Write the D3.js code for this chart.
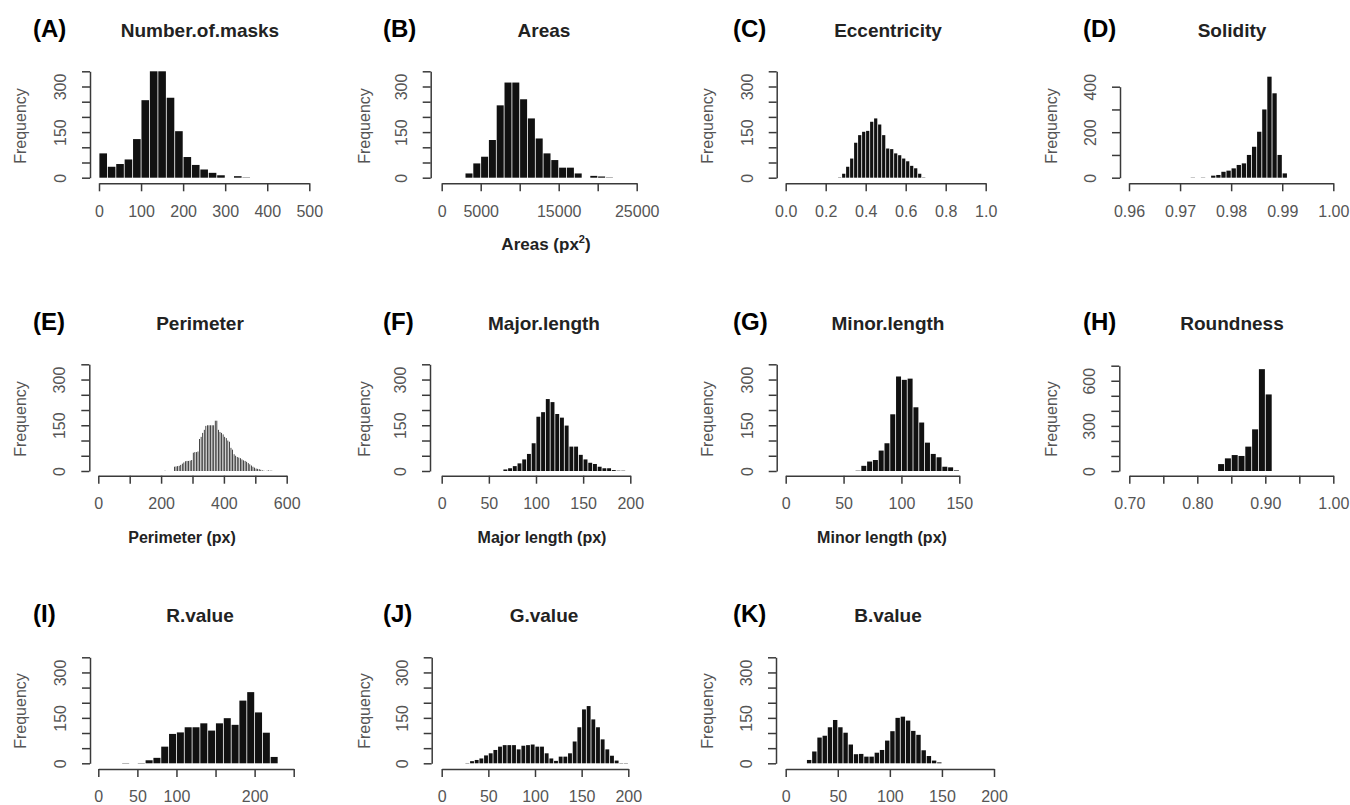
<!DOCTYPE html>
<html>
<head>
<meta charset="utf-8">
<script src="https://cdn.jsdelivr.net/npm/d3@7"></script>
<style>
  body { margin: 0; background: #fff; }
  svg { display: block; font-family: "Liberation Sans", Arial, Helvetica, sans-serif; }
</style>
</head>
<body>
<svg id="chart" width="1350" height="805"></svg>
<script>
// Histogram counts (one value per bin)
const masksCounts = [80, 36, 45, 60, 127, 255, 350, 350, 263, 153, 68, 42, 27, 16, 8, 0, 5, 1];          // bins of 20 from 0
const areasCounts = [14, 47, 69, 124, 238, 313, 313, 258, 195, 129, 80, 58, 33, 33, 14, 0, 6, 4, 1];      // bins of 1000 from 3000
const eccCounts = [1, 13, 36, 63, 115, 140, 151, 154, 184, 195, 175, 140, 96, 94, 80, 74, 63, 54, 39, 31, 13, 1]; // 0.02 from 0.26
const solidityCounts = [1, 0, 1, 0, 9, 12, 26, 31, 41, 56, 63, 100, 136, 202, 300, 444, 371, 100, 19]; // 0.001 from 0.972
const perimeterCounts = [1, 0, 0, 0, 0, 0, 14, 15, 16, 17, 20, 24, 28, 32, 33, 33, 34, 36,
  60, 62, 62, 64, 105, 112, 125, 135, 148, 150, 150, 150, 150, 150, 165, 165,
  135, 128, 125, 120, 112, 108, 100, 96, 76, 70, 55, 50, 46, 44, 42, 38, 35, 33, 30, 26,
  22, 18, 14, 11, 8, 7, 6, 4, 2, 1, 0, 1, 2, 1, 1];                                                      // bins of 5 from 210
const majorCounts = [5, 9, 16, 25, 38, 56, 91, 178, 193, 236, 226, 187, 175, 149, 80, 80, 53, 38, 27, 23, 14, 9, 9, 3, 1, 1]; // 5 from 65
const minorCounts = [1, 17, 31, 36, 67, 91, 186, 310, 299, 303, 209, 159, 93, 56, 45, 14, 12, 2];        // 5 from 60
const roundCounts = [46, 84, 106, 100, 162, 277, 677, 509];                                                // 0.01 from 0.83
const redCounts = [1, 0, 1, 10, 18, 55, 97, 102, 119, 119, 132, 108, 132, 149, 127, 207, 235, 168, 101, 21]; // 10 from 30
const greenCounts = [1, 7, 11, 16, 26, 33, 44, 55, 60, 60, 60, 46, 58, 60, 62, 55, 55, 33, 16, 8, 22, 22, 33,
  72, 119, 178, 189, 145, 119, 79, 46, 25, 9, 1, 1];                                                       // 5 from 25
const blueCounts = [11, 39, 85, 91, 119, 143, 119, 101, 62, 30, 31, 22, 22, 35, 44, 75, 106, 150, 154, 141,
  107, 94, 43, 24, 9, 3];                                                                                   // 5 from 20

// Axis ticks and which of them carry a label
const masksTicks = [0, 100, 200, 300, 400, 500];
const areasTicks = [0, 5000, 10000, 15000, 20000, 25000];
const areasLabels = [0, 5000, 15000, 25000];
const eccTicks = [0, 0.2, 0.4, 0.6, 0.8, 1.0];
const solidityTicks = [0.96, 0.97, 0.98, 0.99, 1.00];
const perimeterTicks = [0, 100, 200, 300, 400, 500, 600];
const perimeterLabels = [0, 200, 400, 600];
const majorTicks = [0, 50, 100, 150, 200];
const minorTicks = [0, 50, 100, 150];
const roundTicks = [0.70, 0.75, 0.80, 0.85, 0.90, 0.95, 1.00];
const roundLabels = [0.70, 0.80, 0.90, 1.00];
const redTicks = [0, 50, 100, 150, 200, 250];
const redLabels = [0, 50, 100, 200];
const colourTicks = [0, 50, 100, 150, 200];

const freqTicks = [0, 50, 100, 150, 200, 250, 300, 350];
const freqLabels = [0, 150, 300];
const solidityFreqTicks = [0, 100, 200, 300, 400];
const solidityFreqLabels = [0, 200, 400];
const roundFreqTicks = [0, 100, 200, 300, 400, 500, 600, 700];
const roundFreqLabels = [0, 300, 600];

const panels = [
  { tag: "(A)", title: "Number.of.masks", counts: masksCounts, start: 0, step: 20, xTicks: masksTicks, xLabels: masksTicks, fmt: d3.format("d"), yTicks: freqTicks, yLabels: freqLabels },
  { tag: "(B)", title: "Areas", counts: areasCounts, start: 3000, step: 1000, xTicks: areasTicks, xLabels: areasLabels, fmt: d3.format("d"), yTicks: freqTicks, yLabels: freqLabels, xTitle: ["Areas (px", "2", ")"] },
  { tag: "(C)", title: "Eccentricity", counts: eccCounts, start: 0.26, step: 0.02, xTicks: eccTicks, xLabels: eccTicks, fmt: d3.format(".1f"), yTicks: freqTicks, yLabels: freqLabels },
  { tag: "(D)", title: "Solidity", counts: solidityCounts, start: 0.972, step: 0.001, xTicks: solidityTicks, xLabels: solidityTicks, fmt: d3.format(".2f"), yTicks: solidityFreqTicks, yLabels: solidityFreqLabels },
  { tag: "(E)", title: "Perimeter", counts: perimeterCounts, start: 210, step: 5, xTicks: perimeterTicks, xLabels: perimeterLabels, fmt: d3.format("d"), yTicks: freqTicks, yLabels: freqLabels, xTitle: ["Perimeter (px)"] },
  { tag: "(F)", title: "Major.length", counts: majorCounts, start: 65, step: 5, xTicks: majorTicks, xLabels: majorTicks, fmt: d3.format("d"), yTicks: freqTicks, yLabels: freqLabels, xTitle: ["Major length (px)"] },
  { tag: "(G)", title: "Minor.length", counts: minorCounts, start: 60, step: 5, xTicks: minorTicks, xLabels: minorTicks, fmt: d3.format("d"), yTicks: freqTicks, yLabels: freqLabels, xTitle: ["Minor length (px)"] },
  { tag: "(H)", title: "Roundness", counts: roundCounts, start: 0.83, step: 0.01, xTicks: roundTicks, xLabels: roundLabels, fmt: d3.format(".2f"), yTicks: roundFreqTicks, yLabels: roundFreqLabels },
  { tag: "(I)", title: "R.value", counts: redCounts, start: 30, step: 10, xTicks: redTicks, xLabels: redLabels, fmt: d3.format("d"), yTicks: freqTicks, yLabels: freqLabels },
  { tag: "(J)", title: "G.value", counts: greenCounts, start: 25, step: 5, xTicks: colourTicks, xLabels: colourTicks, fmt: d3.format("d"), yTicks: freqTicks, yLabels: freqLabels },
  { tag: "(K)", title: "B.value", counts: blueCounts, start: 20, step: 5, xTicks: colourTicks, xLabels: colourTicks, fmt: d3.format("d"), yTicks: freqTicks, yLabels: freqLabels }
];

// layout (pixel positions of each panel)
const rows = [
  { base: 177.7, top: 71.3, axisY: 183.3, textY: 37, freqY: 126, titleY: 250, titleSize: 17 },
  { base: 471.0, top: 364.3, axisY: 475.7, textY: 330, freqY: 419, titleY: 543, titleSize: 16 },
  { base: 763.3, top: 657.3, axisY: 769.0, textY: 622, freqY: 711, titleY: 836, titleSize: 16 }
];
const cols = [
  { tagX: 33, titleX: 200, freqX: 21 },
  { tagX: 383, titleX: 544, freqX: 365 },
  { tagX: 733, titleX: 888, freqX: 708 },
  { tagX: 1083, titleX: 1232, freqX: 1052 }
];
const layout = [
  { row: 0, col: 0, px: [99, 309.3], yAxisX: 90 },
  { row: 0, col: 1, px: [441.7, 636.7], yAxisX: 430.7, xTitleX: 546 },
  { row: 0, col: 2, px: [785.7, 985.7], yAxisX: 776.7 },
  { row: 0, col: 3, px: [1129, 1333.3], yAxisX: 1120, topPx: 86.7 },
  { row: 1, col: 0, px: [98.3, 286.7], yAxisX: 89.3, xTitleX: 182 },
  { row: 1, col: 1, px: [441.7, 630.3], yAxisX: 430, xTitleX: 542 },
  { row: 1, col: 2, px: [785.7, 959.3], yAxisX: 776.7, xTitleX: 882 },
  { row: 1, col: 3, px: [1129.3, 1333.3], yAxisX: 1119.3, topPx: 365.7 },
  { row: 2, col: 0, px: [98.3, 293.7], yAxisX: 90 },
  { row: 2, col: 1, px: [441.7, 628.3], yAxisX: 431.7 },
  { row: 2, col: 2, px: [785.7, 994], yAxisX: 776 }
];

const svg = d3.select("#chart");
const axisColour = "#3a3a3a";
const labelColour = "#555";
const isIn = (arr, d) => arr.some(v => Math.abs(v - d) < 1e-9);

panels.forEach((p, i) => {
  const L = layout[i];
  const row = rows[L.row];
  const col = cols[L.col];
  const g = svg.append("g");

  const x = d3.scaleLinear()
    .domain([p.xTicks[0], p.xTicks[p.xTicks.length - 1]])
    .range(L.px);
  const y = d3.scaleLinear()
    .domain([0, p.yTicks[p.yTicks.length - 1]])
    .range([row.base, L.topPx || row.top]);

  // bars
  const bins = p.counts.map((c, k) => ({ x0: p.start + k * p.step, x1: p.start + (k + 1) * p.step, c }))
    .filter(b => b.c > 0);
  const gap = 0.8;
  g.selectAll(".bar")
    .data(bins)
    .enter()
    .append("rect")
    .attr("class", "bar")
    .attr("x", d => x(d.x0) + gap / 2)
    .attr("width", d => Math.max(0.2, x(d.x1) - x(d.x0) - gap))
    .attr("y", d => y(d.c))
    .attr("height", d => y(0) - y(d.c))
    .style("fill", "#111");

  // x axis
  const gx = g.append("g")
    .attr("transform", `translate(0,${row.axisY})`)
    .call(d3.axisBottom(x)
      .tickValues(p.xTicks)
      .tickSize(8)
      .tickSizeOuter(0)
      .tickFormat(d => isIn(p.xLabels, d) ? p.fmt(d) : ""));
  gx.select(".domain").attr("stroke", axisColour).attr("stroke-width", 1.5);
  gx.selectAll(".tick line").attr("stroke", axisColour).attr("stroke-width", 1.5);
  gx.selectAll("text")
    .attr("y", 22)
    .attr("dy", "0.71em")
    .attr("fill", labelColour)
    .style("font-size", "16px")
    .style("font-family", "'Liberation Sans', Arial, sans-serif");

  // y axis
  const gy = g.append("g")
    .attr("transform", `translate(${L.yAxisX},0)`)
    .call(d3.axisLeft(y)
      .tickValues(p.yTicks)
      .tickSize(8)
      .tickSizeOuter(0)
      .tickFormat(d => isIn(p.yLabels, d) ? d3.format("d")(d) : ""));
  gy.select(".domain").attr("stroke", axisColour).attr("stroke-width", 1.5);
  gy.selectAll(".tick line").attr("stroke", axisColour).attr("stroke-width", 1.5);
  gy.selectAll("text")
    .attr("transform", "rotate(-90)")
    .attr("x", 0)
    .attr("y", -24)
    .attr("dy", 0)
    .attr("text-anchor", "middle")
    .attr("fill", labelColour)
    .style("font-size", "16px")
    .style("font-family", "'Liberation Sans', Arial, sans-serif");

  // Frequency label
  g.append("text")
    .attr("transform", `translate(${col.freqX},${row.freqY}) rotate(-90)`)
    .attr("text-anchor", "middle")
    .attr("dy", "0.3em")
    .attr("fill", labelColour)
    .style("font-size", "16px")
    .text("Frequency");

  // panel tag and title
  g.append("text")
    .attr("x", col.tagX)
    .attr("y", row.textY)
    .style("font-size", "24px")
    .style("font-weight", "bold")
    .attr("fill", "#000")
    .text(p.tag);
  g.append("text")
    .attr("x", col.titleX)
    .attr("y", row.textY)
    .attr("text-anchor", "middle")
    .style("font-size", "19px")
    .style("font-weight", "bold")
    .attr("fill", "#222")
    .text(p.title);

  // x axis title (only some panels have one)
  if (p.xTitle) {
    const t = g.append("text")
      .attr("x", L.xTitleX)
      .attr("y", row.titleY)
      .attr("text-anchor", "middle")
      .style("font-size", row.titleSize + "px")
      .style("font-weight", "bold")
      .attr("fill", "#222");
    t.append("tspan").text(p.xTitle[0]);
    if (p.xTitle.length > 1) {
      t.append("tspan").attr("dy", -7).style("font-size", "11px").text(p.xTitle[1]);
      t.append("tspan").attr("dy", 7).text(p.xTitle[2]);
    }
  }
});
</script>
</body>
</html>
